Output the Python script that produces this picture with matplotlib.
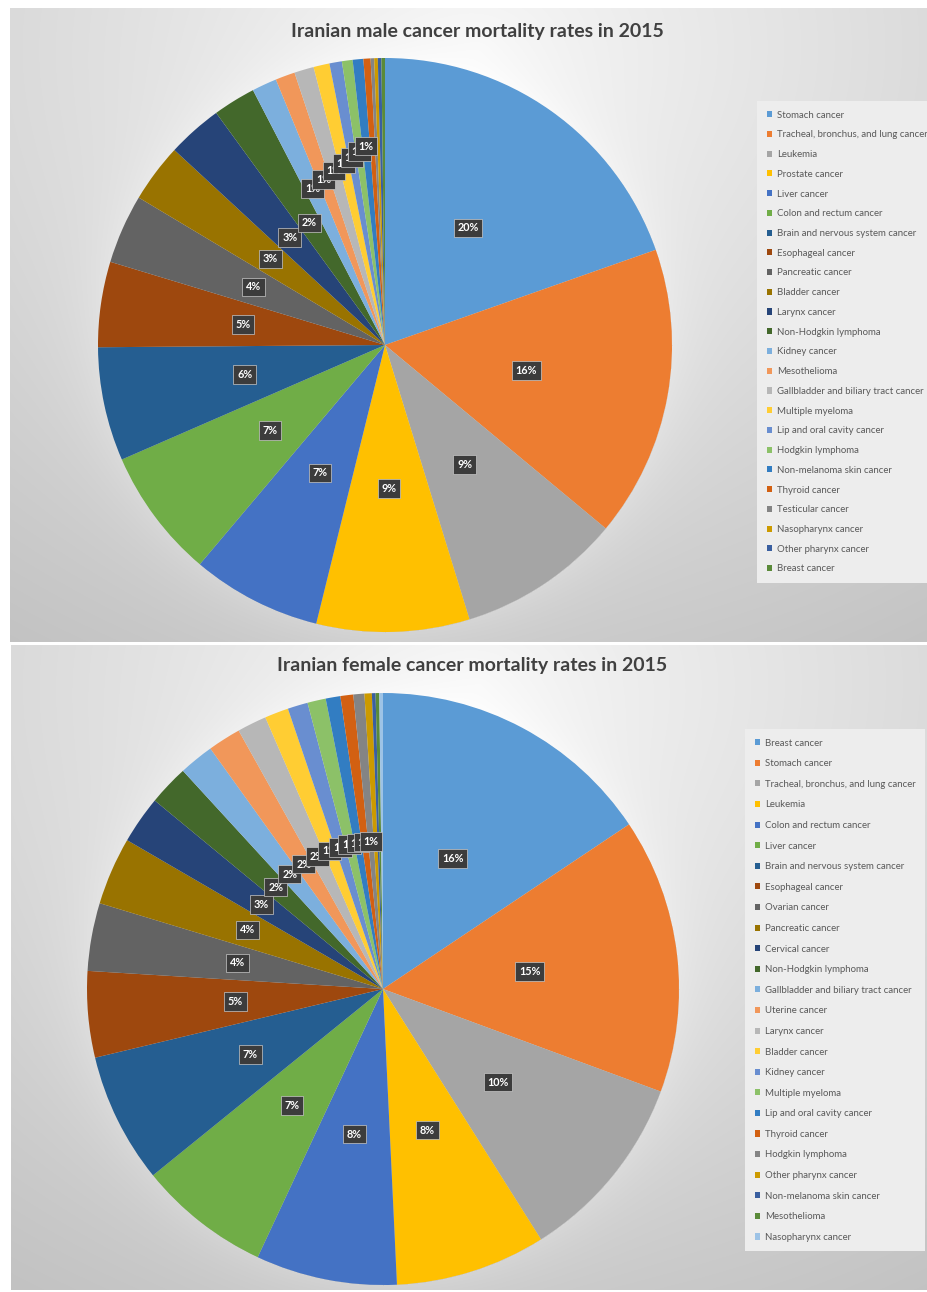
import numpy as np
import matplotlib
matplotlib.use("Agg")
import matplotlib.pyplot as plt

# ---------------- data ----------------
male_title = "Iranian male cancer mortality rates in 2015"
male_labels = ["Stomach cancer", "Tracheal, bronchus, and lung cancer", "Leukemia",
               "Prostate cancer", "Liver cancer", "Colon and rectum cancer",
               "Brain and nervous system cancer", "Esophageal cancer", "Pancreatic cancer",
               "Bladder cancer", "Larynx cancer", "Non-Hodgkin lymphoma", "Kidney cancer",
               "Mesothelioma", "Gallbladder and biliary tract cancer", "Multiple myeloma",
               "Lip and oral cavity cancer", "Hodgkin lymphoma", "Non-melanoma skin cancer",
               "Thyroid cancer", "Testicular cancer", "Nasopharynx cancer",
               "Other pharynx cancer", "Breast cancer"]
male_values = [19.6, 16.4, 9.2, 8.6, 7.3, 7.3, 6.4, 4.8, 3.9, 3.3, 3.1, 2.4, 1.4,
               1.1, 1.1, 0.9, 0.7, 0.6, 0.6, 0.4, 0.2, 0.2, 0.2, 0.2]

female_title = "Iranian female cancer mortality rates in 2015"
female_labels = ["Breast cancer", "Stomach cancer", "Tracheal, bronchus, and lung cancer",
                 "Leukemia", "Colon and rectum cancer", "Liver cancer",
                 "Brain and nervous system cancer", "Esophageal cancer", "Ovarian cancer",
                 "Pancreatic cancer", "Cervical cancer", "Non-Hodgkin lymphoma",
                 "Gallbladder and biliary tract cancer", "Uterine cancer", "Larynx cancer",
                 "Bladder cancer", "Kidney cancer", "Multiple myeloma",
                 "Lip and oral cavity cancer", "Thyroid cancer", "Hodgkin lymphoma",
                 "Other pharynx cancer", "Non-melanoma skin cancer", "Mesothelioma",
                 "Nasopharynx cancer"]
female_values = [15.6, 15.0, 10.4, 8.2, 7.7, 7.2, 7.1, 4.7, 3.7, 3.7, 2.6, 2.2, 1.9,
                 1.8, 1.6, 1.3, 1.1, 1.0, 0.8, 0.7, 0.6, 0.4, 0.2, 0.2, 0.2]

# Excel 2013 default point colours
palette = ['#5B9BD5', '#ED7D31', '#A5A5A5', '#FFC000', '#4472C4', '#70AD47',
           '#255E91', '#9E480E', '#636363', '#997300', '#264478', '#43682B',
           '#7CAFDD', '#F1975A', '#B7B7B7', '#FFCD33', '#698ED0', '#8CC168',
           '#327DC2', '#D26012', '#848484', '#CC9A00', '#3A5FA0', '#5A8A39',
           '#9DC3E6']

# ---------------- figure ----------------
W, H = 928, 1292
fig = plt.figure(figsize=(W / 100, H / 100), dpi=100)
fig.patch.set_facecolor('white')

bg = fig.add_axes([0, 0, 1, 1])
bg.set_xlim(0, W)
bg.set_ylim(H, 0)
bg.axis('off')


def panel_background(x0, y0, x1, y1, pcx, pcy, pr):
    xs = np.arange(x0, x1, 1.0)
    ys = np.arange(y0, y1, 1.0)
    X, Y = np.meshgrid(xs, ys)
    gx = (x0 + x1) / 2.0 + 10
    gy = y0 + 0.06 * (y1 - y0)
    d = np.sqrt(((X - gx) / 860.0) ** 2 + ((Y - gy) / 700.0) ** 2)
    v = 0.965 - 0.2 * d
    # soft light halo around the pie
    dp = np.sqrt((X - pcx) ** 2 + (Y - pcy) ** 2) - pr
    v = v + 0.035 * np.exp(-np.clip(dp, 0, None) / 30.0) * (dp > 0)
    v = np.clip(v, 0, 1)
    img = np.dstack([v, v, v])
    bg.imshow(img, extent=(x0, x1, y1, y0), interpolation='bilinear', zorder=0)


def draw_chart(title, labels, values, pcx, pcy, pr, title_xy, leg_xy, leg_spacing,
               lab_r0, lab_step):
    ax = fig.add_axes([(pcx - pr) / W, 1 - (pcy + pr) / H, 2 * pr / W, 2 * pr / H])
    ax.patch.set_alpha(0)
    cols = palette[:len(values)]
    wedges, _ = ax.pie(values, colors=cols, startangle=90, counterclock=False,
                       radius=1.0, wedgeprops=dict(linewidth=0))
    ax.set_xlim(-1, 1)
    ax.set_ylim(-1, 1)
    ax.set_aspect('equal')
    ax.axis('off')

    total = float(sum(values))
    k = 0
    for w, v in zip(wedges, values):
        pct = 100.0 * v / total
        if pct < 0.5:
            continue
        mid = np.deg2rad((w.theta1 + w.theta2) / 2.0)
        if pct < 2.0:
            r = lab_r0 + lab_step * k
            k += 1
        else:
            r = 0.5
        ax.text(r * np.cos(mid), r * np.sin(mid), "%d%%" % int(pct + 0.5),
                ha='center', va='center', fontsize=7.8, fontweight='bold',
                color='white', family=['Lato', 'DejaVu Sans'],
                bbox=dict(boxstyle='square,pad=0.35', fc='#3c3c3c', ec='#c8c8c8', lw=0.5))

    fig.text(title_xy[0] / W, 1 - title_xy[1] / H, title, ha='center', va='center',
             fontsize=14, fontweight='bold', color='#404040',
             family=['Lato', 'DejaVu Sans'])

    leg = ax.legend(wedges, labels, loc='upper left',
                    bbox_to_anchor=(leg_xy[0] / W, 1 - leg_xy[1] / H),
                    bbox_transform=fig.transFigure, frameon=True, fancybox=False,
                    facecolor='#ededed', edgecolor='none', framealpha=1.0,
                    prop=dict(family=['Lato', 'DejaVu Sans'], size=6.9),
                    labelcolor='#595959', handlelength=0.6, handleheight=0.6,
                    handletextpad=0.45, labelspacing=leg_spacing, borderpad=1.0,
                    borderaxespad=0)
    leg.set_zorder(5)


# panel backgrounds
panel_background(10, 8, W, 642, 385, 345, 287)
panel_background(11, 645, W, 1290, 383, 989, 296)

draw_chart(male_title, male_labels, male_values, 385, 345, 287, (477, 31),
           (757, 101), 1.12, 0.60, 0.016)
draw_chart(female_title, female_labels, female_values, 383, 989, 296, (472, 666),
           (745, 729), 1.21, 0.5, 0.0)

fig.savefig("out.png", dpi=100)
